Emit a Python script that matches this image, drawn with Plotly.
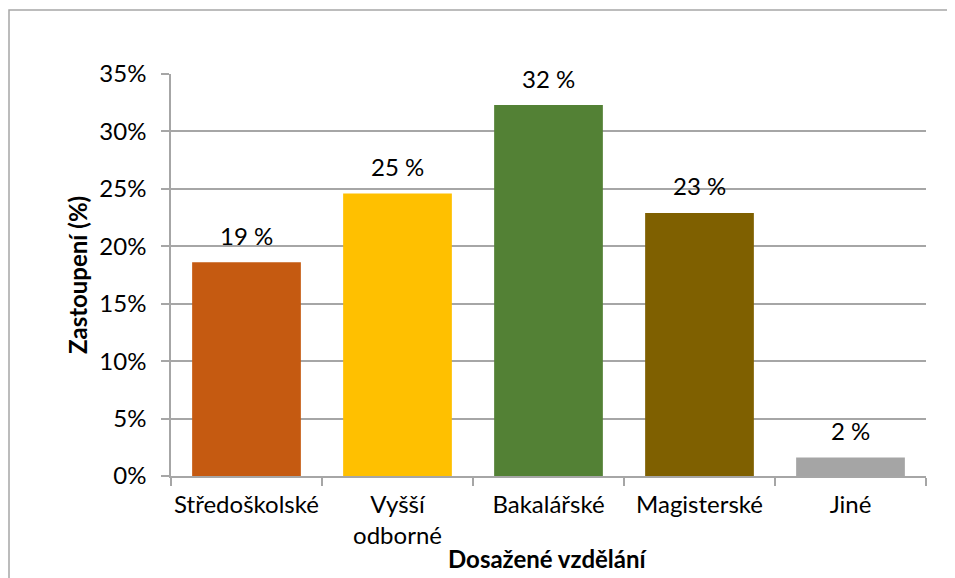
"""Education level distribution bar chart."""

import plotly.graph_objects as go

categories = ["Středoškolské", "Vyšší<br>odborné", "Bakalářské", "Magisterské", "Jiné"]
shares = [0.186, 0.246, 0.323, 0.229, 0.016]
colors = ["#C55A11", "#FFC000", "#538135", "#7F6000", "#A5A5A5"]

FONT = "Lato, Open Sans, sans-serif"
GRID = "#A6A6A6"
TXT = dict(family=FONT, size=24, color="black")
TITLE = dict(family=FONT, size=24, color="black")

# the page body has an 8px margin, so the figure starts at (8, 8)
OFF = 8
W, H = 955 - OFF, 578 - OFF
# plot area edges in window pixels: 171..926 x 74..476
L, R, T, B = 171 - OFF, 955 - 926, 74 - OFF, 578 - 476
pw, ph = W - L - R, H - T - B


def px_x(x):
    return (x - OFF - L) / pw


def px_y(y):
    return 1 - (y - OFF - T) / ph


fig = go.Figure()
fig.add_trace(go.Bar(
    x=categories, y=shares,
    marker=dict(color=colors, line_width=0),
    width=0.72,
    hoverinfo="skip",
))

# value labels
for cat, v in zip(categories, shares):
    fig.add_annotation(
        x=cat, y=v, text=f"{round(v * 100)} %", showarrow=False,
        yanchor="middle", yshift=27, font=TXT,
    )

# axis titles
fig.add_annotation(
    xref="paper", yref="paper", x=px_x(547), y=px_y(558),
    text="<b>Dosažené vzdělání</b>", showarrow=False,
    xanchor="center", yanchor="middle", font=TITLE,
)
fig.add_annotation(
    xref="paper", yref="paper", x=px_x(77), y=px_y(275),
    text="<b>Zastoupení (%)</b>", showarrow=False, textangle=-90,
    xanchor="center", yanchor="middle", font=TITLE,
)

# outer chart frame (cut off at right and bottom like the reference)
fig.add_shape(
    type="rect", xref="paper", yref="paper",
    x0=px_x(9), x1=px_x(975), y0=px_y(600), y1=px_y(10),
    line=dict(color="#A6A6A6", width=1.5), fillcolor="rgba(0,0,0,0)",
    layer="below",
)

fig.update_xaxes(
    type="category", range=[-0.5, len(categories) - 0.5],
    tickangle=0, automargin=False, ticklabelstandoff=6,
    tickson="boundaries", ticks="outside", ticklen=8, tickcolor=GRID, tickwidth=1.5,
    showline=True, linecolor=GRID, linewidth=1.5, showgrid=False,
    tickfont=TXT,
)
fig.update_yaxes(
    range=[0, 0.35], dtick=0.05, tickformat=".0%", automargin=False,
    ticks="outside", ticklen=8, tickcolor=GRID, tickwidth=1.5,
    ticklabelstandoff=10,
    showline=True, linecolor=GRID, linewidth=1.5,
    showgrid=True, gridcolor=GRID, gridwidth=1.5, zeroline=False,
    tickfont=TXT,
)
fig.update_layout(
    width=W, height=H, margin=dict(l=L, r=R, t=T, b=B),
    plot_bgcolor="white", paper_bgcolor="white",
    showlegend=False,
)
fig.write_html("out.html")
